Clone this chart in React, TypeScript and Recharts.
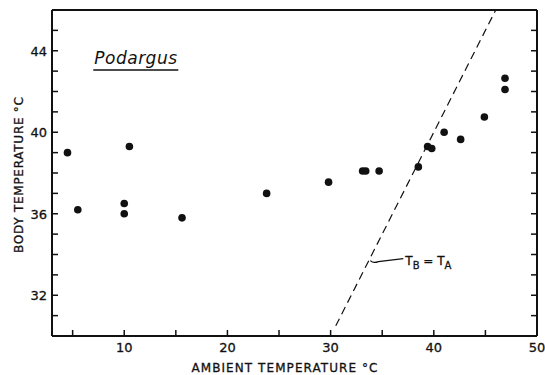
import { ScatterChart, Scatter, XAxis, YAxis, ReferenceLine, ReferenceDot } from "recharts";

// Podargus: body vs ambient temperature (°C)
const ambientTemp = [4.5, 10.5, 5.5, 10, 10, 15.6, 23.8, 29.8, 33.1, 33.4, 34.7, 38.5, 39.4, 39.8, 41.0, 42.6, 44.9, 46.9, 46.9];
const bodyTemp = [39.0, 39.3, 36.2, 36.5, 36.0, 35.8, 37.0, 37.55, 38.1, 38.1, 38.1, 38.3, 39.3, 39.2, 40.0, 39.65, 40.75, 42.65, 42.1];

const xTicks = [5, 10, 15, 20, 25, 30, 35, 40, 45, 50];
const xLabels = [10, 20, 30, 40, 50];
const yTicks = [31, 32, 33, 34, 35, 36, 37, 38, 39, 40, 41, 42, 43, 44, 45];
const yLabels = [32, 36, 40, 44];

// T_B = T_A line endpoints
const equalLine = [30.5, 46];

const points = ambientTemp.map((x, i) => ({ x, y: bodyTemp[i] }));

const FONT = "'DejaVu Sans', sans-serif";
const INK = "#111";

const BottomTick = ({ x, y, payload }: any) => (
    <g>
        <line x1={x} x2={x} y1={y} y2={y - 6} stroke={INK} strokeWidth={1.5} />
        {xLabels.includes(payload.value) && (
            <text x={x} y={y + 16} textAnchor="middle" fontSize={13} fontFamily={FONT} fill={INK} stroke={INK} strokeWidth={0.3}>
                {payload.value}
            </text>
        )}
    </g>
);

const TopTick = ({ x, y }: any) => (
    <line x1={x} x2={x} y1={y} y2={y + 6} stroke={INK} strokeWidth={1.5} />
);

const LeftTick = ({ x, y, payload }: any) => (
    <g>
        <line x1={x} x2={x + 6} y1={y} y2={y} stroke={INK} strokeWidth={1.5} />
        {yLabels.includes(payload.value) && (
            <text x={x - 5} y={y + 5} textAnchor="end" fontSize={13} fontFamily={FONT} fill={INK} stroke={INK} strokeWidth={0.3}>
                {payload.value}
            </text>
        )}
    </g>
);

const RightTick = ({ x, y }: any) => (
    <line x1={x} x2={x - 6} y1={y} y2={y} stroke={INK} strokeWidth={1.5} />
);

const Dot = ({ cx, cy }: any) => <circle cx={cx} cy={cy} r={3.8} fill={INK} />;

export default function App() {
    return (
        <div style={{ width: 545, height: 375, background: "#fff" }}>
            <style>{"body{margin:0}"}</style>
            <ScatterChart width={545} height={375} margin={{ top: 0, right: 0, bottom: 0, left: 0 }}>
                <XAxis
                    type="number"
                    dataKey="x"
                    domain={[3, 50]}
                    allowDataOverflow
                    ticks={xTicks}
                    interval={0}
                    height={39}
                    tickSize={0}
                    tickMargin={0}
                    tickLine={false}
                    tick={<BottomTick />}
                    axisLine={{ stroke: INK, strokeWidth: 2 }}
                    label={{
                        content: ({ viewBox }: any) => (
                            <text
                                x={viewBox.x + viewBox.width / 2 - 10}
                                y={viewBox.y + 35.5}
                                textAnchor="middle"
                                fontSize={12}
                                fontFamily={FONT}
                                fill={INK}
                                stroke={INK}
                                strokeWidth={0.3}
                                textLength={186}
                                lengthAdjust="spacing"
                            >
                                AMBIENT TEMPERATURE °C
                            </text>
                        ),
                    }}
                />
                <XAxis
                    xAxisId="top"
                    orientation="top"
                    type="number"
                    domain={[3, 50]}
                    allowDataOverflow
                    ticks={xTicks}
                    interval={0}
                    height={10}
                    tickSize={0}
                    tickMargin={0}
                    tickLine={false}
                    tick={<TopTick />}
                    axisLine={{ stroke: INK, strokeWidth: 2 }}
                />
                <YAxis
                    type="number"
                    dataKey="y"
                    domain={[30, 46]}
                    allowDataOverflow
                    ticks={yTicks}
                    interval={0}
                    width={52}
                    tickSize={0}
                    tickMargin={0}
                    tickLine={false}
                    tick={<LeftTick />}
                    axisLine={{ stroke: INK, strokeWidth: 2 }}
                    label={{
                        content: ({ viewBox }: any) => {
                            const cx = viewBox.x + 23;
                            const cy = viewBox.y + viewBox.height / 2 + 2;
                            return (
                                <text
                                    x={cx}
                                    y={cy}
                                    transform={`rotate(-90, ${cx}, ${cy})`}
                                    textAnchor="middle"
                                    fontSize={12}
                                    fontFamily={FONT}
                                    fill={INK}
                                    stroke={INK}
                                    strokeWidth={0.3}
                                    textLength={156}
                                    lengthAdjust="spacing"
                                >
                                    BODY TEMPERATURE °C
                                </text>
                            );
                        },
                    }}
                />
                <YAxis
                    yAxisId="right"
                    orientation="right"
                    type="number"
                    domain={[30, 46]}
                    allowDataOverflow
                    ticks={yTicks}
                    interval={0}
                    width={8}
                    tickSize={0}
                    tickMargin={0}
                    tickLine={false}
                    tick={<RightTick />}
                    axisLine={{ stroke: INK, strokeWidth: 2 }}
                />
                <ReferenceLine
                    segment={[
                        { x: equalLine[0], y: equalLine[0] },
                        { x: equalLine[1], y: equalLine[1] },
                    ]}
                    stroke={INK}
                    strokeWidth={1.2}
                    strokeDasharray="8 5"
                />
                <ReferenceDot
                    x={33.75}
                    y={33.75}
                    r={0}
                    shape={({ cx, cy }: any) => (
                        <g>
                            <path
                                d={`M${cx + 1},${cy + 1} q3,3 8,1 L${cx + 34},${cy - 1}`}
                                fill="none"
                                stroke={INK}
                                strokeWidth={1.2}
                            />
                            <text x={cx + 36} y={cy + 5} fontSize={12} fontFamily={FONT} fill={INK} stroke={INK} strokeWidth={0.3}>
                                T
                                <tspan fontSize={10} dy={4}>B</tspan>
                                <tspan dy={-4}> = T</tspan>
                                <tspan fontSize={10} dy={4}>A</tspan>
                            </text>
                        </g>
                    )}
                />
                <ReferenceDot
                    x={7}
                    y={43.35}
                    r={0}
                    shape={({ cx, cy }: any) => (
                        <g>
                            <text x={cx + 1} y={cy} fontSize={17} fontStyle="italic" fontFamily={FONT} fill={INK} letterSpacing={0.5}>
                                Podargus
                            </text>
                            <line x1={cx} x2={cx + 85} y1={cy + 6} y2={cy + 6} stroke={INK} strokeWidth={1.5} />
                        </g>
                    )}
                />
                <Scatter data={points} shape={<Dot />} isAnimationActive={false} />
            </ScatterChart>
        </div>
    );
}
